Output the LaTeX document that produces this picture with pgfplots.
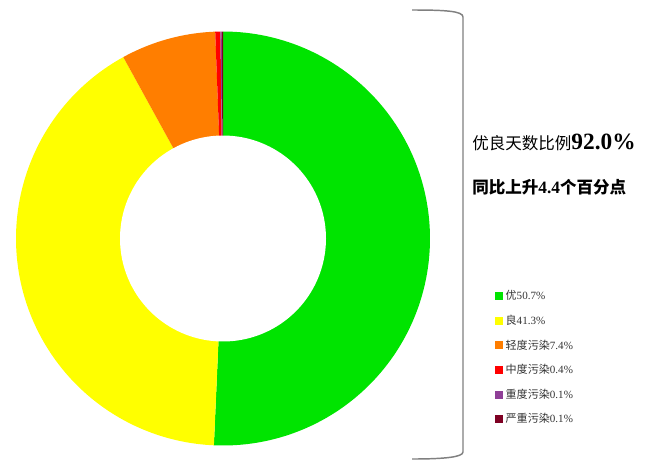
\documentclass[border=0pt]{standalone}
\usepackage{pgfplots}
\pgfplotsset{compat=1.18}
\usepackage{fontspec}
\setmainfont{Liberation Serif}
\newfontfamily\cjk{Noto Sans CJK SC}

% AQI shares (%), clockwise from 12 o'clock
\def\pA{50.7}\def\pB{41.3}\def\pC{7.4}\def\pD{0.4}\def\pE{0.1}\def\pF{0.1}
\pgfmathsetmacro\aA{90}
\pgfmathsetmacro\aB{\aA-3.6*\pA}
\pgfmathsetmacro\aC{\aB-3.6*\pB}
\pgfmathsetmacro\aD{\aC-3.6*\pC}
\pgfmathsetmacro\aE{\aD-3.6*\pD}
\pgfmathsetmacro\aF{\aE-3.6*\pE}
\pgfmathsetmacro\aG{\aF-3.6*\pF}

\definecolor{you}{HTML}{00E400}
\definecolor{liang}{HTML}{FFFF00}
\definecolor{qing}{HTML}{FF7E00}
\definecolor{zhong}{HTML}{FF0000}
\definecolor{zhongdu}{HTML}{8F3F97}
\definecolor{yanzhong}{HTML}{7E0023}
\definecolor{txt}{HTML}{333333}

\begin{document}
\begin{tikzpicture}
\begin{axis}[
  width=492.75pt, height=351.75pt, scale only axis,
  xmin=0, xmax=657, ymin=0, ymax=469, y dir=reverse,
  hide axis, clip=false,
  legend cell align=left,
  legend image code/.code={\fill[#1] (0pt,-3pt) rectangle (6pt,3pt);},
  legend style={at={(axis cs:495,288)}, anchor=north west, draw=none, fill=none,
    font=\fontsize{8.3pt}{9pt}\selectfont\color{txt}, row sep=5.9pt,
    inner sep=0pt, outer sep=0pt},
]
\addplot[fill=you, draw=none, domain=\aB:\aA, samples=120, variable=\t]
  ({223+207*cos(t)},{238.5-207*sin(t)}) -- (axis cs:223,238.5) -- cycle;
\addlegendentry{{\cjk 优}50.7\%}
\addplot[fill=liang, draw=none, domain=\aC:\aB, samples=120, variable=\t]
  ({223+207*cos(t)},{238.5-207*sin(t)}) -- (axis cs:223,238.5) -- cycle;
\addlegendentry{{\cjk 良}41.3\%}
\addplot[fill=qing, draw=none, domain=\aD:\aC, samples=30, variable=\t]
  ({223+207*cos(t)},{238.5-207*sin(t)}) -- (axis cs:223,238.5) -- cycle;
\addlegendentry{{\cjk 轻度污染}7.4\%}
\addplot[fill=zhong, draw=none, domain=\aE:\aD, samples=5, variable=\t]
  ({223+207*cos(t)},{238.5-207*sin(t)}) -- (axis cs:223,238.5) -- cycle;
\addlegendentry{{\cjk 中度污染}0.4\%}
\addplot[fill=zhongdu, draw=none, domain=\aF:\aE, samples=3, variable=\t]
  ({223+207*cos(t)},{238.5-207*sin(t)}) -- (axis cs:223,238.5) -- cycle;
\addlegendentry{{\cjk 重度污染}0.1\%}
\addplot[fill=yanzhong, draw=none, domain=\aG:\aF, samples=3, variable=\t]
  ({223+207*cos(t)},{238.5-207*sin(t)}) -- (axis cs:223,238.5) -- cycle;
\addlegendentry{{\cjk 严重污染}0.1\%}
% hole
\addplot[fill=white, draw=none, domain=0:360, samples=150, variable=\t, forget plot]
  ({223+103*cos(t)},{238.5-103*sin(t)}) -- cycle;

% bracket
\draw[gray, line width=1.1pt] (axis cs:412,10) .. controls (axis cs:445,10) and (axis cs:463,11) .. (axis cs:463,17)
  -- (axis cs:463,452) .. controls (axis cs:463,457) and (axis cs:445,459) .. (axis cs:412,459);

\node[anchor=base west, inner sep=0pt, font=\fontsize{12.4pt}{14pt}\selectfont]
  at (axis cs:472,149) {{\cjk 优良天数比例}{\fontsize{17.5pt}{18pt}\selectfont\bfseries 92.0\%}};
\node[anchor=base west, inner sep=0pt, font=\fontsize{12.4pt}{14pt}\selectfont]
  at (axis cs:472,193) {{\cjk\bfseries 同比上升}{\fontsize{13pt}{15pt}\selectfont\bfseries 4.4}{\cjk\bfseries 个百分点}};
\end{axis}
\pgfresetboundingbox
\path (current axis.south west) rectangle (current axis.north east);
\end{tikzpicture}
\end{document}
